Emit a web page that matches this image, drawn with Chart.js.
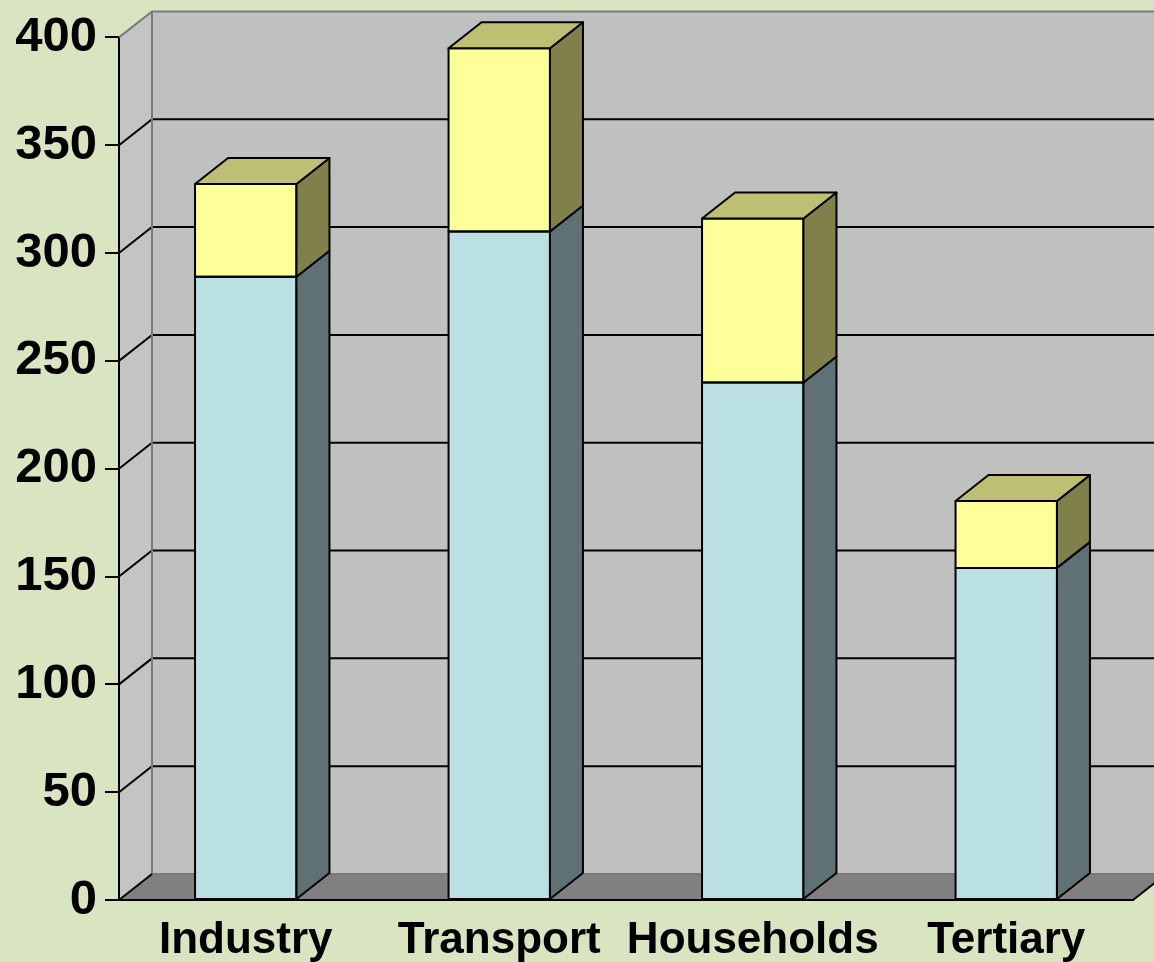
<!DOCTYPE html>
<html>
<head>
<meta charset="utf-8">
<title>Energy use by sector</title>
<script src="https://cdn.jsdelivr.net/npm/chart.js@4.4.1/dist/chart.umd.min.js"></script>
<style>
  html, body { margin: 0; padding: 0; background: #d9e4c1; }
  #wrap { width: 1154px; height: 962px; position: relative; }
</style>
</head>
<body>
<div id="wrap"><canvas id="barChart"></canvas></div>
<script>
// data
const categories = ['Industry', 'Transport', 'Households', 'Tertiary'];
const lowerValues = [289, 310, 240, 154];
const upperValues = [43, 85, 76, 31];
const yMin = 0;
const yMax = 400;
const yStep = 50;

// 3d look
const depthX = 33;
const depthY = 26;

const faceColors = [
  { front: '#bbe0e3', side: '#5f7174', top: '#9fbfc2' },
  { front: '#ffff99', side: '#80804a', top: '#bfbf73' }
];

function poly(ctx, pts, fill, stroke, lw) {
  ctx.beginPath();
  ctx.moveTo(pts[0][0], pts[0][1]);
  for (let i = 1; i < pts.length; i++) ctx.lineTo(pts[i][0], pts[i][1]);
  ctx.closePath();
  if (fill) { ctx.fillStyle = fill; ctx.fill(); }
  if (stroke) { ctx.strokeStyle = stroke; ctx.lineWidth = lw || 1; ctx.stroke(); }
}

const walls3d = {
  id: 'walls3d',
  beforeDatasetsDraw(chart) {
    const ctx = chart.ctx;
    const area = chart.chartArea;
    const y = chart.scales.y;
    const L = area.left, R = area.right;
    const T = y.getPixelForValue(yMax), B = y.getPixelForValue(yMin);

    ctx.save();
    // back wall
    poly(ctx, [[L + depthX, T - depthY], [R + depthX, T - depthY], [R + depthX, B - depthY], [L + depthX, B - depthY]], '#c0c0c0');
    // left side wall
    poly(ctx, [[L, T], [L + depthX, T - depthY], [L + depthX, B - depthY], [L, B]], '#c4c4c4');
    // floor
    poly(ctx, [[L, B], [L + depthX, B - depthY], [R + depthX, B - depthY], [R, B]], '#808080');

    // grid lines on the walls
    ctx.strokeStyle = '#000';
    ctx.lineWidth = 2;
    for (let v = yMin + yStep; v < yMax; v += yStep) {
      const py = y.getPixelForValue(v);
      ctx.beginPath();
      ctx.moveTo(L, py);
      ctx.lineTo(L + depthX, py - depthY);
      ctx.lineTo(R + depthX, py - depthY);
      ctx.stroke();
    }

    // wall edges
    ctx.strokeStyle = '#7a7a7a';
    ctx.lineWidth = 2;
    ctx.beginPath();
    ctx.moveTo(L, T);
    ctx.lineTo(L + depthX, T - depthY);
    ctx.lineTo(R + depthX, T - depthY);
    ctx.moveTo(L + depthX, T - depthY);
    ctx.lineTo(L + depthX, B - depthY);
    ctx.lineTo(R + depthX, B - depthY);
    ctx.stroke();

    // front axis lines and floor edges
    ctx.strokeStyle = '#000';
    ctx.lineWidth = 2;
    ctx.beginPath();
    ctx.moveTo(L, T);
    ctx.lineTo(L, B);
    ctx.lineTo(R, B);
    ctx.lineTo(R + depthX, B - depthY);
    ctx.moveTo(L, B);
    ctx.lineTo(L + depthX, B - depthY);
    ctx.stroke();
    ctx.restore();
  },
  afterDatasetsDraw(chart) {
    const ctx = chart.ctx;
    const last = chart.data.datasets.length - 1;
    ctx.save();
    ctx.lineJoin = 'round';
    chart.data.datasets.forEach(function(ds, di) {
      const meta = chart.getDatasetMeta(di);
      meta.data.forEach(function(bar) {
        const p = bar.getProps(['x', 'y', 'base', 'width'], true);
        const left = p.x - p.width / 2, right = p.x + p.width / 2;
        const c = faceColors[di];
        // front outline
        poly(ctx, [[left, p.y], [right, p.y], [right, p.base], [left, p.base]], null, '#000', 2);
        // right side
        poly(ctx, [[right, p.y], [right + depthX, p.y - depthY], [right + depthX, p.base - depthY], [right, p.base]], c.side, '#000', 2);
        // top, only on the last stack part
        if (di === last) {
          poly(ctx, [[left, p.y], [left + depthX, p.y - depthY], [right + depthX, p.y - depthY], [right, p.y]], c.top, '#000', 2);
        }
      });
    });
    ctx.restore();
  }
};

const ctx = document.getElementById('barChart').getContext('2d');

new Chart(ctx, {
  type: 'bar',
  data: {
    labels: categories,
    datasets: [
      {
        label: 'Base',
        data: lowerValues,
        backgroundColor: faceColors[0].front,
        borderWidth: 0
      },
      {
        label: 'Extra',
        data: upperValues,
        backgroundColor: faceColors[1].front,
        borderWidth: 0
      }
    ]
  },
  options: {
    responsive: true,
    maintainAspectRatio: false,
    animation: false,
    layout: { padding: { top: 37, right: 21, left: 0, bottom: 0 } },
    categoryPercentage: 0.8,
    barPercentage: 0.5,
    plugins: {
      legend: { display: false },
      tooltip: { enabled: false }
    },
    scales: {
      x: {
        stacked: true,
        grid: { display: false },
        border: { display: true, color: '#000', width: 2 },
        ticks: {
          color: '#000',
          font: { family: 'Liberation Sans, Arial, sans-serif', size: 44, weight: 'bold' },
          maxRotation: 0,
          autoSkip: false,
          padding: 6
        },
        afterFit: function(scale) { scale.height = 62; }
      },
      y: {
        stacked: true,
        min: yMin,
        max: yMax,
        grid: {
          display: true,
          drawOnChartArea: false,
          drawTicks: true,
          tickLength: 14,
          color: '#000',
          lineWidth: 2
        },
        border: { display: true, color: '#000', width: 2 },
        ticks: {
          stepSize: yStep,
          color: '#000',
          padding: 8,
          font: { family: 'Liberation Sans, Arial, sans-serif', size: 49, weight: 'bold' }
        },
        afterFit: function(scale) { scale.width = 119; }
      }
    }
  },
  plugins: [walls3d]
});
</script>
</body>
</html>
